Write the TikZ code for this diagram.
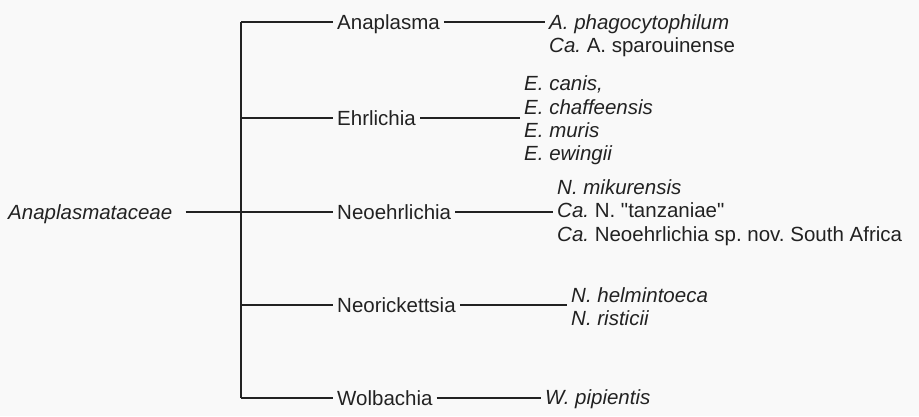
\documentclass[tikz,border=0pt]{standalone}
\usepackage{fontspec}
\setmainfont{Liberation Sans}[Ligatures=TeXOff]
\usetikzlibrary{positioning}
\definecolor{inkgray}{RGB}{34,34,34}
\definecolor{pagebg}{RGB}{249,249,249}
\tikzset{
  genus/.style={anchor=west, inner xsep=4pt, inner ysep=0pt, text height=14.7pt, text depth=0pt},
  species/.style={anchor=west, align=left, inner xsep=4pt, inner ysep=0pt},
  branch/.style={draw=inkgray, line width=1.4pt}
}
\newcommand{\ca}{\textit{Ca.}}
\frenchspacing

\begin{document}
\begin{tikzpicture}[x=1pt, y=-1pt, font=\fontsize{20.5}{23.3}\selectfont, text=inkgray]
  \fill[pagebg] (0,0) rectangle (919,416);
  % family and genera
  \node[genus, inner xsep=0pt] (fam) at (8,212) {\itshape Anaplasmataceae};
  \coordinate (trunk) at (241,212);
  \node[genus] (ana) at (333,22) {Anaplasma};
  \node[genus] (ehr) at (333,118) {Ehrlichia};
  \node[genus] (neo) at (333,212) {Neoehrlichia};
  \node[genus] (nrk) at (333,305) {Neorickettsia};
  \node[genus] (wol) at (333,398) {Wolbachia};
  % species lists
  \node[species] (anasp) at (545,35.5) {\textit{A. phagocytophilum}\\ \ca{} A. sparouinense};
  \node[species] (ehrsp) at (520,120.5) {\textit{E. canis,}\\ \textit{E. chaffeensis}\\ \textit{E. muris}\\ \textit{E. ewingii}};
  \node[species] (neosp) at (553,212.5) {\textit{N. mikurensis}\\ \ca{} N. "tanzaniae"\\ \ca{} Neoehrlichia sp. nov. South Africa};
  \node[species] (nrksp) at (567,306.5) {\textit{N. helmintoeca}\\ \textit{N. risticii}};
  \node[species] (wolsp) at (541,399) {\textit{W. pipientis}};
  % tree
  \draw[branch] ([xshift=13pt]fam.east) -- (trunk);
  \draw[branch] (trunk |- ana.west) -- (trunk |- wol.west);
  \foreach \g/\s in {ana/anasp, ehr/ehrsp, neo/neosp, nrk/nrksp, wol/wolsp} {
    \draw[branch] (trunk |- \g.west) -- (\g.west);
    \draw[branch] (\g.east) -- (\g.east -| \s.west);
  }
\end{tikzpicture}
\end{document}
